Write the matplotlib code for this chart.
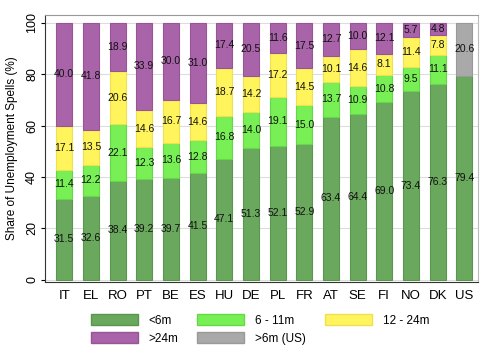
import matplotlib.pyplot as plt
import numpy as np
from matplotlib.patches import Patch

countries = ["IT", "EL", "RO", "PT", "BE", "ES", "HU", "DE",
             "PL", "FR", "AT", "SE", "FI", "NO", "DK", "US"]
lt6 = [31.5, 32.6, 38.4, 39.2, 39.7, 41.5, 47.1, 51.3,
       52.1, 52.9, 63.4, 64.4, 69.0, 73.4, 76.3, 79.4]
m6_11 = [11.4, 12.2, 22.1, 12.3, 13.6, 12.8, 16.8, 14.0,
         19.1, 15.0, 13.7, 10.9, 10.8, 9.5, 11.1]
m12_24 = [17.1, 13.5, 20.6, 14.6, 16.7, 14.6, 18.7, 14.2,
          17.2, 14.5, 10.1, 14.6, 8.1, 11.4, 7.8]
gt24 = [40.0, 41.8, 18.9, 33.9, 30.0, 31.0, 17.4, 20.5,
        11.6, 17.5, 12.7, 10.0, 12.1, 5.7, 4.8]
us_gt6 = [20.6]

plt.rcParams["font.family"] = ["Liberation Sans", "DejaVu Sans"]

c_dark = "#6aa85e"
c_light = "#77ef55"
c_yellow = "#fff45c"
c_purple = "#a863a9"
c_gray = "#a9a9a9"

fig = plt.figure(figsize=(4.95, 3.6), dpi=100)
ax = fig.add_axes([0.091, 0.217, 0.875, 0.741])

x = np.arange(len(countries))
w = 0.6
eu = x[:-1]


def stacked(xs, vals, bottom, color, edge):
    bars = ax.bar(xs, vals, w, bottom=bottom, color=color, edgecolor=edge,
                  linewidth=0.8, zorder=2)
    for xi, v, b in zip(xs, vals, bottom):
        ax.text(xi, b + v / 2, f"{v:.1f}", ha="center", va="center",
                fontsize=7.5, color="#111111", zorder=3)
    return bars


zeros = np.zeros(len(countries))
stacked(x, lt6, zeros, c_dark, "#5a9650")
b2 = np.array(lt6[:-1])
stacked(eu, m6_11, b2, c_light, "#66d848")
b3 = b2 + np.array(m6_11)
stacked(eu, m12_24, b3, c_yellow, "#eee050")
b4 = b3 + np.array(m12_24)
stacked(eu, gt24, b4, c_purple, "#975598")
stacked(x[-1:], us_gt6, np.array(lt6[-1:]), c_gray, "#999999")

ax.set_xlim(-0.72, 15.52)
ax.set_ylim(-0.8, 103)
ax.set_yticks([0, 20, 40, 60, 80, 100])
ax.set_yticklabels(["0", "20", "40", "60", "80", "100"], rotation=90,
                   va="center", fontsize=9)
ax.set_xticks(x)
ax.set_xticklabels(countries, fontsize=9.5)
ax.tick_params(axis="x", length=0, pad=6)
ax.tick_params(axis="y", length=3, pad=2)
ax.set_ylabel("Share of Unemployment Spells (%)", fontsize=8.5, labelpad=6)
ax.yaxis.grid(True, color="#dddddd", linewidth=0.8, zorder=0)
ax.set_axisbelow(True)
ax.spines["left"].set_color("#333333")
ax.spines["bottom"].set_color("#333333")
ax.spines["top"].set_color("#999999")
ax.spines["right"].set_color("#bbbbbb")

handles = [
    Patch(facecolor=c_dark, edgecolor="#5a9650", label="<6m"),
    Patch(facecolor=c_purple, edgecolor="#975598", label=">24m"),
    Patch(facecolor=c_light, edgecolor="#66d848", label="6 - 11m"),
    Patch(facecolor=c_gray, edgecolor="#999999", label=">6m (US)"),
    Patch(facecolor=c_yellow, edgecolor="#eee050", label="12 - 24m"),
]
fig.legend(handles=handles, ncol=3, loc="center", bbox_to_anchor=(0.525, 0.085),
           frameon=False, fontsize=8.5, handlelength=4.0, handleheight=1.1,
           columnspacing=1.6, handletextpad=0.9, labelspacing=0.45)

fig.savefig("out.png", dpi=100)
